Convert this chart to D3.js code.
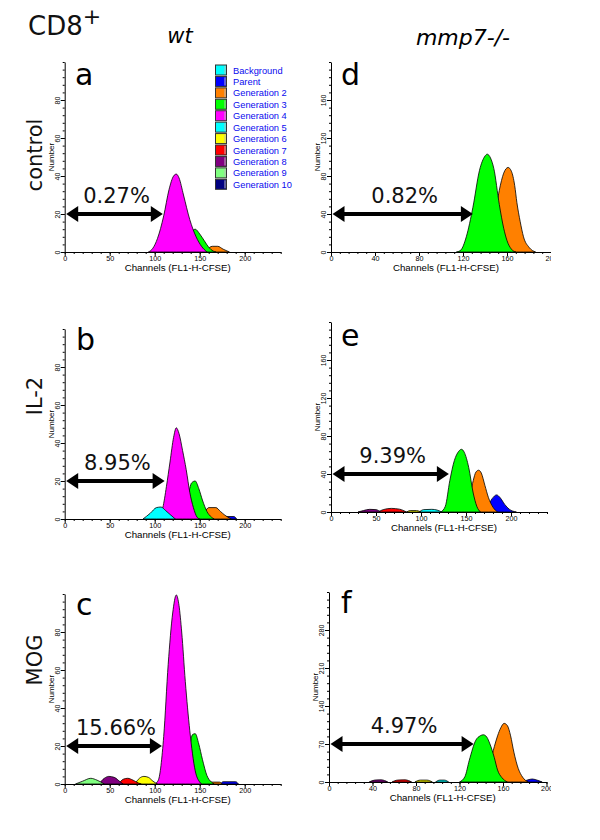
<!DOCTYPE html>
<html><head><meta charset="utf-8">
<script src="https://cdn.jsdelivr.net/npm/d3@7"></script>
<style>body{margin:0;background:#fff} svg{display:block}</style>
</head><body>
<svg id="chart" width="600" height="840"></svg>
<script>
// ---------------- DATA ----------------
const generations = ["Background","Parent","Generation 2","Generation 3","Generation 4","Generation 5","Generation 6","Generation 7","Generation 8","Generation 9","Generation 10"];
const genColors = ["#00ffff","#0000ff","#ff8000","#00ff00","#ff00ff","#00ffff","#ffff00","#ff0000","#800080","#80ff80","#000080"];

const panelLetters = ["a","b","c","d","e","f"];
const rowLabels = ["control","IL-2","MOG"];
const columnLabels = ["wt","mmp7-/-"];
const percentLabels = ["0.27%","8.95%","15.66%","0.82%","9.39%","4.97%"];
const arrowEnd = [109,111,108,129,131,133];     // channel where the arrow stops
const arrowLevel = [20,20,20,40,40,70];         // count level of the arrow

// axis domains / ticks
const xMaxes = [240,240,240,200,240,200];
const yMaxes = [100,100,100,200,200,350];
const xTicksWt = [0,50,100,150,200];
const xTicksKo = [0,40,80,120,160,200];
const yTicksWt = [0,20,40,60,80];
const yTicksKo = [0,40,80,120,160];
const yTicksF = [0,70,140,210,280];

// curves: [channel, count]
// panel a (wt control)
const a_g2 = [[150,0],[158,1.5],[164,3],[170,3],[176,1.5],[183,0]];
const a_g3 = [[128,0],[135,5],[140,10],[145,12],[150,9.5],[155,6],[160,2.5],[165,0.5],[168,0]];
const a_g4 = [[93,0],[98,2],[103,7],[110,19],[116,33],[121,40],[124,41],[127,39],[132,30],[139,17],[146,8],[152,3],[158,0]];
// panel b (wt IL-2)
const b_g1 = [[176,0],[179,1.3],[188,1.3],[191,0]];
const b_g2 = [[150,0],[156,4],[160,6],[168,6],[173,4],[178,2],[183,0.5],[185,0]];
const b_g3 = [[128,0],[133,4],[137,12],[141,19],[145,20],[149,16],[153,10],[158,4],[163,1],[166,0]];
const b_g4 = [[100,0],[105,2],[109,6],[113,17],[117,30],[121,43],[124,48],[127,45],[131,36],[135,26],[139,14],[143,6],[147,1],[150,0]];
const b_g5 = [[87,0],[95,3],[102,6],[107,6.3],[112,4.5],[118,2],[123,0]];
// panel c (wt MOG)
const c_g1 = [[173,0],[176,1.2],[190,1.2],[193,0]];
const c_g2 = [[160,0],[163,1],[172,1],[175,0]];
const c_g3 = [[130,0],[135,8],[139,20],[142,26],[145,26.5],[149,21],[153,13],[158,4.5],[163,1],[166,0]];
const c_g4 = [[100,0],[104,2],[110,25],[115,63],[120,90],[124,99.5],[127,94],[130,80],[134,54],[139,28],[145,7],[150,1],[152,0]];
const c_g6 = [[78,0],[83,3],[88,4],[93,3.5],[98,1.5],[103,0]];
const c_g7 = [[60,0],[65,2.5],[70,3],[76,2],[82,0.5],[85,0]];
const c_g8 = [[38,0],[44,3],[49,4],[55,3.5],[62,1],[65,0]];
const c_g9 = [[12,0],[20,1.5],[29,3],[36,2],[44,0]];
// panel d (mmp7-/- control)
const d_g2 = [[135,0],[142,8],[148,30],[153,65],[157,83],[161,89],[164,85],[167,70],[169,52],[172,32],[175,16],[180,5],[186,0]];
const d_g3 = [[114,0],[118,2],[123,16],[129,47],[135,86],[140,101],[142,103],[145,99],[148,88],[153,50],[157,25],[160,12],[164,3],[168,0]];
// panel e (mmp7-/- IL-2)
const e_g1 = [[168,0],[174,6],[179,14],[184,18],[188,15],[193,8],[198,3],[206,0]];
const e_g2 = [[140,0],[150,8],[155,20],[158,33],[161,42],[164,44],[167,41],[171,28],[175,15],[180,5],[185,0]];
const e_g3 = [[122,0],[127,6],[132,33],[137,54],[142,64],[145,66],[148,63],[153,47],[158,20],[162,6],[166,0]];
const e_g5 = [[98,0],[103,2.5],[112,2.8],[118,2],[123,0]];
const e_g6 = [[84,0],[88,1.5],[95,1.5],[100,0]];
const e_g7 = [[52,0],[58,2.5],[67,3.8],[76,3],[84,0]];
const e_g8 = [[30,0],[36,1.5],[43,2.8],[50,2.5],[55,0]];
// panel f (mmp7-/- MOG)
const f_g1 = [[178,0],[183,4],[187,5.5],[192,3],[196,0]];
const f_g2 = [[135,0],[142,10],[148,35],[152,65],[155,85],[158,100],[161,108],[164,104],[167,85],[170,55],[174,25],[178,9],[183,0]];
const f_g3 = [[120,0],[125,10],[129,40],[135,77],[139,85],[142,87],[145,83],[148,70],[152,45],[155,22],[159,8],[164,0]];
const f_g5 = [[98,0],[102,3.5],[106,3.5],[110,0]];
const f_g6 = [[79,0],[84,3.5],[90,3.5],[95,0]];
const f_g7 = [[58,0],[63,3.5],[70,4],[76,0]];
const f_g8 = [[37,0],[42,3.5],[48,4],[54,0]];

const panelCurves = [
  [[2,a_g2],[3,a_g3],[4,a_g4]],
  [[1,b_g1],[2,b_g2],[3,b_g3],[4,b_g4],[5,b_g5]],
  [[1,c_g1],[2,c_g2],[3,c_g3],[4,c_g4],[6,c_g6],[7,c_g7],[8,c_g8],[9,c_g9]],
  [[2,d_g2],[3,d_g3]],
  [[1,e_g1],[2,e_g2],[3,e_g3],[5,e_g5],[6,e_g6],[7,e_g7],[8,e_g8]],
  [[1,f_g1],[2,f_g2],[3,f_g3],[5,f_g5],[6,f_g6],[7,f_g7],[8,f_g8]]
];

// ---------------- LAYOUT ----------------
const layout = [
  {x0:64.7, w:216, base:252, h:190, xT:xTicksWt, xMin:10, yT:yTicksWt, yMin:4, letter:[75,85], clip:false},
  {x0:64.7, w:216, base:519, h:190, xT:xTicksWt, xMin:10, yT:yTicksWt, yMin:4, letter:[76,350], clip:false},
  {x0:64.7, w:216, base:784, h:190, xT:xTicksWt, xMin:10, yT:yTicksWt, yMin:4, letter:[76,615], clip:false},
  {x0:331, w:220, base:252, h:190, xT:xTicksKo, xMin:8, yT:yTicksKo, yMin:8, letter:[341,85], clip:true},
  {x0:331, w:216, base:512, h:190, xT:xTicksWt, xMin:10, yT:yTicksKo, yMin:8, letter:[341,346], clip:true},
  {x0:329, w:217.5, base:782, h:190, xT:xTicksKo, xMin:8, yT:yTicksF, yMin:14, letter:[341,613], clip:true}
];

const svg = d3.select("#chart");
svg.append("defs").append("clipPath").attr("id","clipR")
  .append("rect").attr("x",300).attr("y",0).attr("width",251).attr("height",840);

const SANS = "'DejaVu Sans', Verdana, sans-serif";
const ARIAL = "'Liberation Sans', Arial, sans-serif";

layout.forEach((p, i) => {
  const g = svg.append("g");
  if (p.clip) g.attr("clip-path","url(#clipR)");
  const x = d3.scaleLinear().domain([0, xMaxes[i]]).range([p.x0, p.x0 + p.w]);
  const y = d3.scaleLinear().domain([0, yMaxes[i]]).range([p.base, p.base - p.h]);

  // histograms (older generations behind, younger in front)
  const area = d3.area().x(d => x(d[0])).y0(y(0)).y1(d => y(d[1])).curve(d3.curveMonotoneX);
  panelCurves[i].slice().sort((m, n) => m[0] - n[0]).forEach(([gi, pts]) => {
    g.append("path").attr("d", area(pts))
      .attr("fill", genColors[gi]).attr("stroke", "#000").attr("stroke-width", 0.8)
      .attr("stroke-linejoin","round");
  });

  // x axis minor + major
  g.append("g").attr("transform", `translate(0,${p.base})`)
    .call(d3.axisBottom(x).tickValues(d3.range(0, xMaxes[i] + 0.01, p.xMin)).tickSize(2).tickSizeOuter(0).tickFormat(""))
    .call(s => s.select(".domain").attr("stroke","#000"));
  const xa = g.append("g").attr("transform", `translate(0,${p.base})`)
    .call(d3.axisBottom(x).tickValues(p.xT).tickSize(4).tickSizeOuter(0).tickPadding(0));
  xa.select(".domain").remove();
  xa.selectAll("text").attr("font-family", ARIAL).attr("font-size", 7.2).attr("fill","#000");

  // y axis minor + major
  g.append("g").attr("transform", `translate(${p.x0},0)`)
    .call(d3.axisLeft(y).tickValues(d3.range(0, yMaxes[i] + 0.01, p.yMin)).tickSize(2).tickSizeOuter(0).tickFormat(""));
  const ya = g.append("g").attr("transform", `translate(${p.x0},0)`)
    .call(d3.axisLeft(y).tickValues(p.yT).tickSize(4).tickSizeOuter(0));
  ya.select(".domain").remove();
  ya.selectAll("text").attr("x", null).attr("dy", null).attr("text-anchor","middle")
    .attr("transform","translate(-5,0) rotate(-90)")
    .attr("font-family", ARIAL).attr("font-size", 7).attr("fill","#000");

  // axis titles
  g.append("text").attr("transform", `translate(${p.x0 - 11},${p.base - p.h / 2}) rotate(-90)`)
    .attr("text-anchor","middle").attr("font-family", ARIAL).attr("font-size", 8).text("Number");
  g.append("text").attr("x", p.x0 + p.w / 2 + 5).attr("y", p.base + 19)
    .attr("text-anchor","middle").attr("font-family", ARIAL).attr("font-size", 9.7).text("Channels (FL1-H-CFSE)");

  // double-headed arrow
  const ay = y(arrowLevel[i]);
  const xl = x(0) + 1.5, xr = x(arrowEnd[i]);
  g.append("line").attr("x1", xl + 8).attr("x2", xr - 8).attr("y1", ay).attr("y2", ay)
    .attr("stroke","#000").attr("stroke-width", 4);
  g.append("path").attr("d", `M${xl},${ay} L${xl + 12},${ay - 8} L${xl + 12},${ay + 8} Z`).attr("fill","#000");
  g.append("path").attr("d", `M${xr},${ay} L${xr - 12},${ay - 8} L${xr - 12},${ay + 8} Z`).attr("fill","#000");
  g.append("text").attr("x", (xl + xr) / 2 + 2).attr("y", ay - 11)
    .attr("text-anchor","middle").attr("font-family", SANS).attr("font-size", 21).attr("fill","#111")
    .text(percentLabels[i]);

  // panel letter
  svg.append("text").attr("x", p.letter[0]).attr("y", p.letter[1])
    .attr("font-family", SANS).attr("font-size", 30).attr("fill","#000").text(panelLetters[i]);
});

// legend (panel a)
const leg = svg.append("g");
generations.forEach((name, k) => {
  const cy = 70 + k * 11.43;
  leg.append("rect").attr("x", 215.5).attr("y", cy - 5).attr("width", 11).attr("height", 10)
    .attr("fill", genColors[k]).attr("stroke", "#333").attr("stroke-width", 1);
  leg.append("line").attr("x1", 225).attr("x2", 225).attr("y1", cy - 4).attr("y2", cy + 4)
    .attr("stroke", "#bbb").attr("stroke-width", 1);
  leg.append("text").attr("x", 233).attr("y", cy + 3.5)
    .attr("font-family", ARIAL).attr("font-size", 9.3).attr("fill", "#0a0aee").text(name);
});

// header texts
const hdr = svg.append("text").attr("x", 28).attr("y", 35).attr("font-family", SANS).attr("font-size", 26).attr("fill","#111");
hdr.append("tspan").text("CD8");
hdr.append("tspan").attr("dy", -11).attr("font-size", 22).text("+");

svg.append("text").attr("x", 180).attr("y", 43).attr("text-anchor","middle")
  .attr("font-family", SANS).attr("font-style","italic").attr("font-size", 21).text(columnLabels[0]);
svg.append("text").attr("x", 463).attr("y", 45).attr("text-anchor","middle")
  .attr("font-family", SANS).attr("font-style","italic").attr("font-size", 22).text(columnLabels[1]);

const rowY = [155, 396, 660];
rowLabels.forEach((t, k) => {
  svg.append("text").attr("transform", `translate(42,${rowY[k]}) rotate(-90)`)
    .attr("text-anchor","middle").attr("font-family", SANS).attr("font-size", 21).attr("fill","#111").text(t);
});
</script>
</body></html>
